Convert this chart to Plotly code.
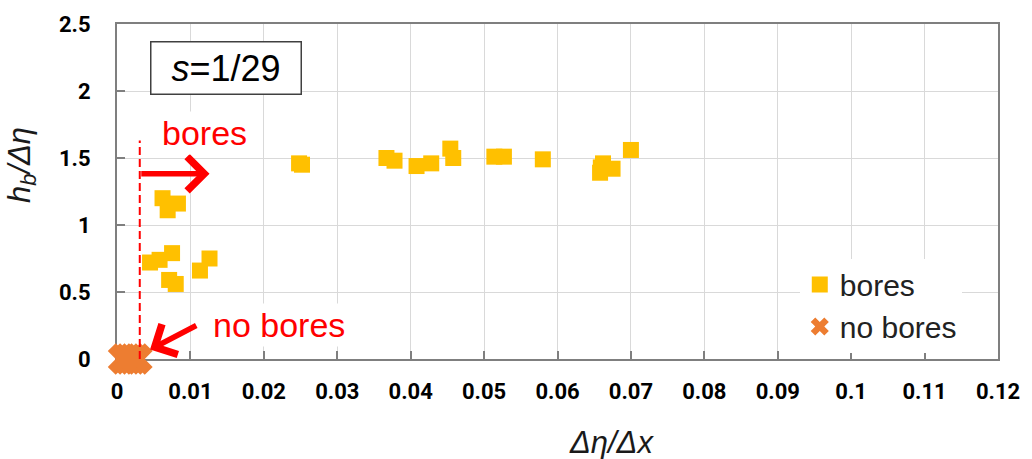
import plotly.graph_objects as go

# ---- data ----
bores_x = [0.0045, 0.0058, 0.0075, 0.0071, 0.0080, 0.0113, 0.0126,
           0.0062, 0.0083, 0.0069,
           0.0248, 0.0252, 0.0367, 0.0378, 0.0408, 0.0428, 0.0454, 0.0458,
           0.0514, 0.0527, 0.0580, 0.0659, 0.0658, 0.0675, 0.0662, 0.0700]
bores_y = [0.72, 0.74, 0.79, 0.59, 0.56, 0.66, 0.75,
           1.20, 1.16, 1.11,
           1.46, 1.45, 1.50, 1.48, 1.44, 1.46, 1.57, 1.50,
           1.51, 1.51, 1.49, 1.43, 1.39, 1.42, 1.46, 1.56]
nobores_x = [0.0009, 0.0015, 0.0021, 0.0027]
nobores_y = [0, 0, 0, 0]

x_ticks = [0, 0.01, 0.02, 0.03, 0.04, 0.05, 0.06, 0.07, 0.08, 0.09, 0.10, 0.11, 0.12]
x_ticklabels = ["0", "0.01", "0.02", "0.03", "0.04", "0.05", "0.06", "0.07",
                "0.08", "0.09", "0.1", "0.11", "0.12"]
y_ticks = [0, 0.5, 1, 1.5, 2, 2.5]
y_ticklabels = ["0", "0.5", "1", "1.5", "2", "2.5"]

threshold_x = 0.0031
threshold_top = 1.63

YELLOW = "#FFC000"
ORANGE = "#ED7D31"
RED = "#FF0000"
AXIS = "#7f7f7f"
GRID = "#d9d9d9"

fig = go.Figure()
fig.add_trace(go.Scatter(x=bores_x, y=bores_y, mode="markers", name="bores",
                         marker=dict(symbol="square", size=16, color=YELLOW,
                                     line=dict(width=0)),
                         cliponaxis=False))
fig.add_trace(go.Scatter(x=nobores_x, y=nobores_y, mode="markers", name="no bores",
                         marker=dict(symbol="x", size=28, color=ORANGE,
                                     line=dict(width=0)),
                         cliponaxis=False))

# dashed threshold line
fig.add_shape(type="line", xref="x", yref="y", x0=threshold_x, x1=threshold_x,
              y0=0, y1=threshold_top, line=dict(color=RED, width=2, dash="8px,4px"))

# arrows
fig.add_annotation(x=0.0126, y=1.382, ax=threshold_x, ay=1.382, xref="x", yref="y",
                   axref="x", ayref="y", text="", showarrow=True, arrowhead=4,
                   arrowsize=1.2, arrowwidth=5.5, arrowcolor=RED, standoff=0)
fig.add_annotation(x=0.0045, y=0.070, ax=0.0110, ay=0.256, xref="x", yref="y",
                   axref="x", ayref="y", text="", showarrow=True, arrowhead=4,
                   arrowsize=1.2, arrowwidth=5.5, arrowcolor=RED, standoff=0)
# labels
fig.add_annotation(x=0.0119, y=1.685, xref="x", yref="y", text="bores",
                   showarrow=False, font=dict(family="Liberation Sans", size=34, color=RED),
                   bgcolor="white", borderpad=2)
fig.add_annotation(x=0.0221, y=0.256, xref="x", yref="y", text="no bores",
                   showarrow=False, font=dict(family="Liberation Sans", size=34, color=RED),
                   bgcolor="white", borderpad=2)
# slope box
fig.add_annotation(x=0.0149, y=2.17, xref="x", yref="y", text="<i>s</i>=1/29",
                   showarrow=False, font=dict(family="Liberation Sans", size=36, color="black"),
                   bgcolor="white", bordercolor="#404040", borderwidth=1.5,
                   width=145, height=47, borderpad=2)
# axis titles
title_font = dict(family="Liberation Sans", size=31, color="#1a1a1a")
fig.add_annotation(x=-0.108, y=0.579, xref="paper", yref="paper",
                   xanchor="center", yanchor="middle",
                   text="<i>h<sub>b</sub>/Δη</i>", textangle=-90, showarrow=False,
                   font=title_font)
fig.add_annotation(x=0.5616, y=-0.25, xref="paper", yref="paper",
                   xanchor="center", yanchor="middle",
                   text="<i>Δη/Δx</i>", showarrow=False, font=title_font)

tick_font = dict(family="Roboto", size=22, color="black", weight="bold")
fig.update_xaxes(range=[0, 0.12], tickvals=x_ticks, ticktext=x_ticklabels,
                 showgrid=True, gridcolor=GRID, gridwidth=1, zeroline=False,
                 showline=True, linecolor=AXIS, linewidth=2, mirror=True,
                 ticks="inside", ticklen=8, tickcolor=AXIS, tickwidth=1.5,
                 tickfont=tick_font, ticklabelstandoff=12, layer="below traces")
fig.update_yaxes(range=[0, 2.5], tickvals=y_ticks, ticktext=y_ticklabels,
                 showgrid=True, gridcolor=GRID, gridwidth=1, zeroline=False,
                 showline=True, linecolor=AXIS, linewidth=2, mirror=True,
                 ticks="inside", ticklen=8, tickcolor=AXIS, tickwidth=1.5,
                 tickfont=tick_font, ticklabelstandoff=20, layer="below traces")

fig.update_layout(width=1032, height=459, plot_bgcolor="white", paper_bgcolor="white",
                  margin=dict(l=117, r=30, t=22, b=100),
                  showlegend=True,
                  legend=dict(x=0.775, y=0.30, xanchor="left", yanchor="top",
                              bgcolor="white", borderwidth=0,
                              font=dict(family="Liberation Sans", size=30, color="#222222"),
                              itemwidth=30, tracegroupgap=0))

fig.write_html("out.html")
